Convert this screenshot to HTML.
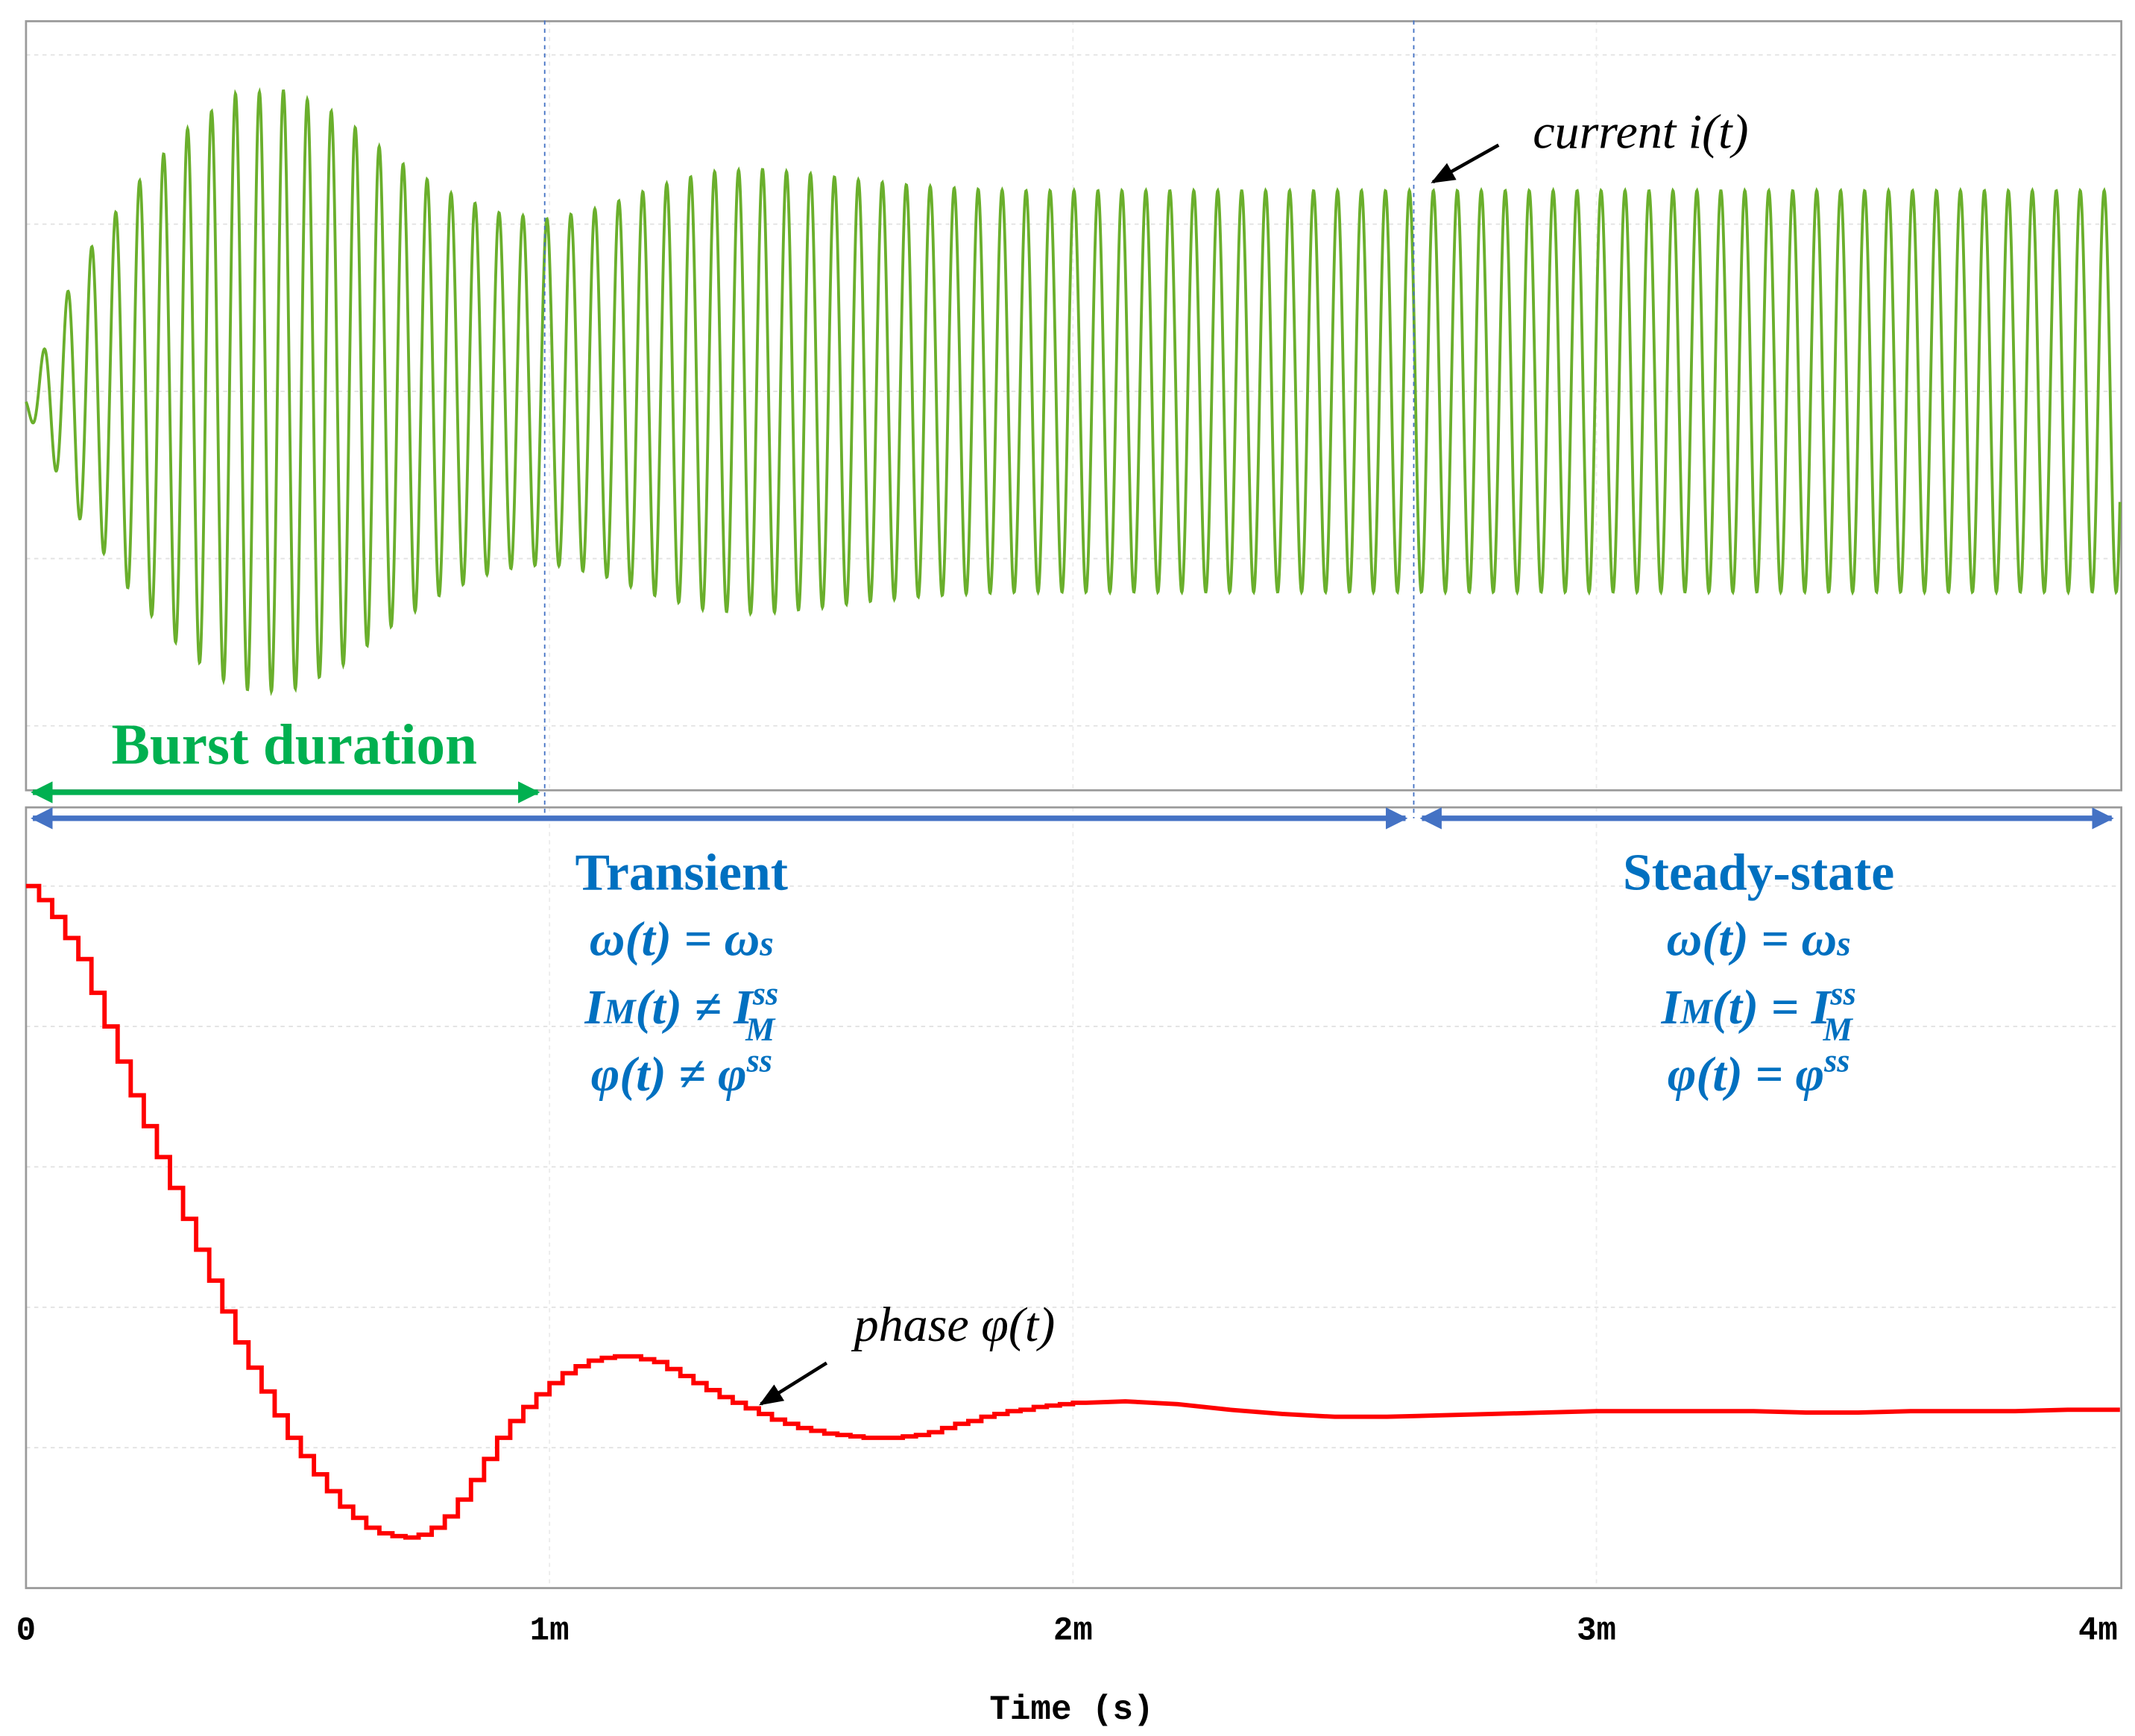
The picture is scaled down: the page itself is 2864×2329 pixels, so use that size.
<!DOCTYPE html>
<html><head><meta charset="utf-8">
<style>
html,body{margin:0;padding:0;background:#fff;}
svg{display:block;}
.serif{font-family:"Liberation Serif",serif;}
.mono{font-family:"Liberation Mono","DejaVu Sans Mono",monospace;font-weight:bold;}
</style></head>
<body>
<svg id="chart" width="2864" height="2329" viewBox="0 0 1560 1268.6" xmlns="http://www.w3.org/2000/svg">
<rect x="0" y="0" width="1560" height="1268.6" fill="#fff"/>
<g id="grid"></g>
<rect x="19" y="15.5" width="1531" height="562" fill="none" stroke="#9a9a9a" stroke-width="1.5"/>
<rect x="19" y="590" width="1531" height="570.5" fill="none" stroke="#9a9a9a" stroke-width="1.5"/>
<g id="current"></g>
<g id="phase"></g>
<line x1="398" y1="15" x2="398" y2="598" stroke="#4472c4" stroke-width="1" stroke-dasharray="3,3"/>
<line x1="1033" y1="15" x2="1033" y2="598" stroke="#4472c4" stroke-width="1" stroke-dasharray="3,3"/>
<defs>
<marker id="ga" viewBox="0 0 10 10" refX="9" refY="5" markerWidth="4" markerHeight="4" orient="auto-start-reverse"><path d="M0,0 L10,5 L0,10 z" fill="#00b050"/></marker>
<marker id="ba" viewBox="0 0 10 10" refX="9" refY="5" markerWidth="4" markerHeight="4" orient="auto-start-reverse"><path d="M0,0 L10,5 L0,10 z" fill="#4472c4"/></marker>
<marker id="ka" viewBox="0 0 10 10" refX="9" refY="5" markerWidth="7" markerHeight="7" orient="auto"><path d="M0,1 L10,5 L0,9 z" fill="#000"/></marker>
</defs>
<line x1="24" y1="579" x2="393" y2="579" stroke="#00b050" stroke-width="4" marker-start="url(#ga)" marker-end="url(#ga)"/>
<line x1="24" y1="598" x2="1027" y2="598" stroke="#4472c4" stroke-width="4" marker-start="url(#ba)" marker-end="url(#ba)"/>
<line x1="1039" y1="598" x2="1543" y2="598" stroke="#4472c4" stroke-width="4" marker-start="url(#ba)" marker-end="url(#ba)"/>
<text class="serif" x="215" y="558" font-size="42" font-weight="bold" fill="#00b050" text-anchor="middle">Burst duration</text>
<g class="serif" fill="#0070c0" font-weight="bold" text-anchor="middle" font-size="38">
<text x="498" y="650">Transient</text>
<text x="498" y="698" font-style="italic" font-size="36">ω(t) = ω<tspan font-size="26">s</tspan></text>
<text x="498" y="748" font-style="italic" font-size="36">I<tspan font-size="26">M</tspan>(t) ≠ I<tspan font-size="24" dy="-14">ss</tspan><tspan font-size="24" dx="-24" dy="26">M</tspan></text>
<text x="498" y="797" font-style="italic" font-size="36">φ(t) ≠ φ<tspan font-size="24" dy="-14">ss</tspan></text>
<text x="1285" y="650">Steady-state</text>
<text x="1285" y="698" font-style="italic" font-size="36">ω(t) = ω<tspan font-size="26">s</tspan></text>
<text x="1285" y="748" font-style="italic" font-size="36">I<tspan font-size="26">M</tspan>(t) = I<tspan font-size="24" dy="-14">ss</tspan><tspan font-size="24" dx="-24" dy="26">M</tspan></text>
<text x="1285" y="797" font-style="italic" font-size="36">φ(t) = φ<tspan font-size="24" dy="-14">ss</tspan></text>
</g>
<text class="serif" x="1120" y="108" font-size="36" font-style="italic" fill="#000">current i(t)</text>
<line x1="1095" y1="106" x2="1047" y2="133" stroke="#000" stroke-width="2.5" marker-end="url(#ka)"/>
<text class="serif" x="624" y="980" font-size="36" font-style="italic" fill="#000">phase φ(t)</text>
<line x1="604" y1="996" x2="556" y2="1026" stroke="#000" stroke-width="2.5" marker-end="url(#ka)"/>
<g id="xticks"></g>
<text class="mono" x="783" y="1256" font-size="25" text-anchor="middle" fill="#000">Time (s)</text>
</svg>
<script>
// ---- data ----
const xTickValues = [0, 1, 2, 3, 4];           // ms
const xTickLabels = ["0", "1m", "2m", "3m", "4m"];
// current envelope amplitude, sampled every 0.1 ms from 0 to 4 ms
const envelopeTimes = [0,0.1,0.2,0.3,0.4,0.5,0.6,0.7,0.8,0.9,1.0,1.1,1.2,1.3,1.4,1.5,1.6,1.7,1.8,1.9,2.0,2.1,2.2,2.3,2.4,2.5,2.6,2.7,2.8,2.9,3.0,3.1,3.2,3.3,3.4,3.5,3.6,3.7,3.8,3.9,4.0];
const envelopeValues = [0.05,0.75,1.2,1.55,1.78,1.8,1.65,1.4,1.2,1.07,1.03,1.1,1.22,1.31,1.33,1.3,1.26,1.23,1.21,1.2,1.2,1.2,1.2,1.2,1.2,1.2,1.2,1.2,1.2,1.2,1.2,1.2,1.2,1.2,1.2,1.2,1.2,1.2,1.2,1.2,1.2];
const carrierCyclesPerMs = 21.85;
const carrierFirstPeak = 0.034;
// phase, stepped region sampled every 0.025 ms (0..2.0 ms)
const phaseStepDt = 0.025;
const phaseStepped = [5.00,4.90,4.78,4.63,4.48,4.24,4.00,3.75,3.51,3.29,3.07,2.85,2.63,2.41,2.19,1.97,1.75,1.57,1.40,1.23,1.07,0.94,0.81,0.69,0.58,0.50,0.43,0.39,0.37,0.36,0.38,0.43,0.51,0.63,0.77,0.92,1.07,1.19,1.29,1.38,1.46,1.53,1.58,1.62,1.64,1.65,1.65,1.63,1.61,1.56,1.51,1.46,1.41,1.36,1.32,1.28,1.24,1.20,1.17,1.14,1.12,1.10,1.09,1.08,1.07,1.07,1.07,1.08,1.09,1.11,1.14,1.17,1.19,1.22,1.24,1.26,1.27,1.29,1.30,1.31,1.32];
// phase, settled region 2.1..4.0 ms every 0.1 ms
const phaseTailTimes = [2.1,2.2,2.3,2.4,2.5,2.6,2.7,2.8,2.9,3.0,3.1,3.2,3.3,3.4,3.5,3.6,3.7,3.8,3.9,4.0];
const phaseTail = [1.33,1.31,1.27,1.24,1.22,1.22,1.23,1.24,1.25,1.26,1.26,1.26,1.26,1.25,1.25,1.26,1.26,1.26,1.27,1.27];

// ---- axes ----
const X0 = 19, XW = 1530, TMAX = 4;
const xs = t => X0 + t / TMAX * XW;
const yCur = v => 286 - v * 122.2;       // top panel
const yPh = v => 1160.5 - v * 102.6;     // bottom panel
const NS = "http://www.w3.org/2000/svg";
const mk = (tag, parent) => { const e = document.createElementNS(NS, tag); parent.appendChild(e); return e; };

// grid
const grid = document.getElementById('grid');
[-2, -1, 0, 1, 2].forEach(v => {
  const l = mk('line', grid);
  
  
  l.setAttribute('x1', X0); l.setAttribute('x2', X0 + XW);
  l.setAttribute('y1', yCur(v) + (v === 2 ? -1.5 : 0)); l.setAttribute('y2', yCur(v) + (v === 2 ? -1.5 : 0));
  l.setAttribute('stroke', '#e2e2e2'); l.setAttribute('stroke-dasharray', '3,3');
});
[1, 2, 3, 4, 5].forEach(v => {
  const l = mk('line', grid);
  
  
  l.setAttribute('x1', X0); l.setAttribute('x2', X0 + XW);
  l.setAttribute('y1', yPh(v)); l.setAttribute('y2', yPh(v));
  l.setAttribute('stroke', '#e2e2e2'); l.setAttribute('stroke-dasharray', '3,3');
});
xTickValues.slice(1, 4).forEach(t => {
  [[15, 578], [590, 1160]].forEach(([a, b]) => {
    const l = mk('line', grid);
    
    
    l.setAttribute('x1', xs(t)); l.setAttribute('x2', xs(t));
    l.setAttribute('y1', a); l.setAttribute('y2', b);
    l.setAttribute('stroke', '#ececec'); l.setAttribute('stroke-dasharray', '3,3');
  });
});

// x ticks
const xt = document.getElementById('xticks');
xTickValues.forEach((t, i) => {
  const tx = mk('text', xt);
  
  
  tx.setAttribute('class', 'mono');
  tx.setAttribute('x', xs(t) + (i === 4 ? -16 : 0));
  tx.setAttribute('y', 1198);
  tx.setAttribute('font-size', '24');
  tx.setAttribute('text-anchor', 'middle');
  tx.textContent = xTickLabels[i];
});

// current
function env(t) {
  for (let i = 0; i < envelopeTimes.length - 1; i++) {
    if (t <= envelopeTimes[i + 1]) {
      const f = (t - envelopeTimes[i]) / (envelopeTimes[i + 1] - envelopeTimes[i]);
      return envelopeValues[i] + f * (envelopeValues[i + 1] - envelopeValues[i]);
    }
  }
  return envelopeValues[envelopeValues.length - 1];
}
let d = '';
const N = 6000;
for (let k = 0; k <= N; k++) {
  const t = k / N * TMAX;
  const v = env(t) * Math.cos(2 * Math.PI * carrierCyclesPerMs * (t - carrierFirstPeak)) - 0.06 * Math.max(0, 1 - t / 0.1);
  d += (k ? 'L' : 'M') + xs(t).toFixed(2) + ',' + yCur(v).toFixed(2);
}
const cp = mk('path', document.getElementById('current'));


cp.setAttribute('d', d);
cp.setAttribute('fill', 'none');
cp.setAttribute('stroke', '#6aaf2c');
cp.setAttribute('stroke-width', '2.1');

// phase
let pd = '';
phaseStepped.forEach((v, i) => {
  const t0 = i * phaseStepDt, t1 = (i + 1) * phaseStepDt;
  pd += (i ? 'L' : 'M') + xs(t0).toFixed(2) + ',' + yPh(v).toFixed(2);
  pd += 'L' + xs(t1).toFixed(2) + ',' + yPh(v).toFixed(2);
});
phaseTail.forEach((v, i) => {
  pd += 'L' + xs(phaseTailTimes[i]).toFixed(2) + ',' + yPh(v).toFixed(2);
});
const pp = mk('path', document.getElementById('phase'));


pp.setAttribute('d', pd);
pp.setAttribute('fill', 'none');
pp.setAttribute('stroke', '#ff0000');
pp.setAttribute('stroke-width', '3.2');
</script>
</body></html>
